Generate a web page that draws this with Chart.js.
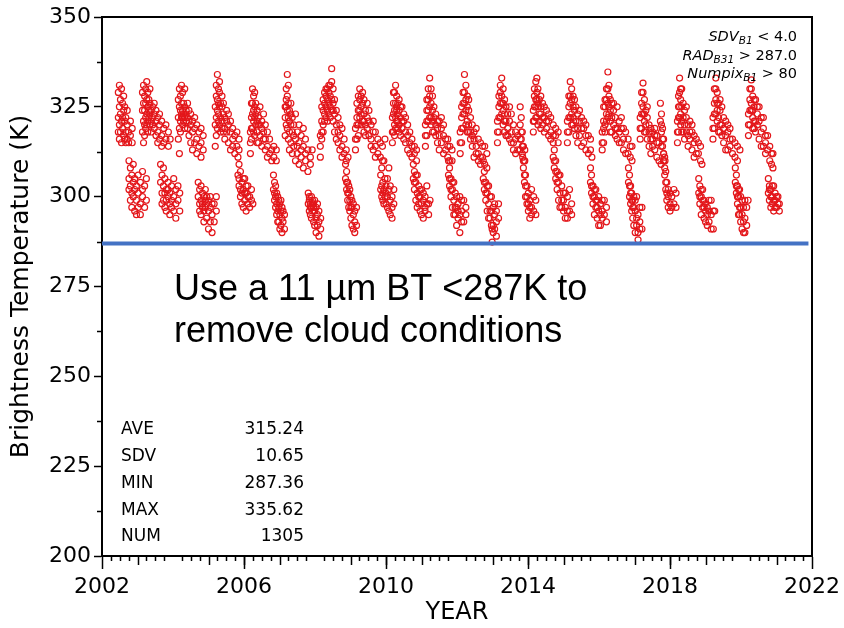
<!DOCTYPE html>
<html>
<head>
<meta charset="utf-8">
<script src="https://cdn.jsdelivr.net/npm/chart.js@4.4.1/dist/chart.umd.min.js"></script>
<style>
  html, body { margin: 0; padding: 0; background: #fff; }
  #wrap { width: 844px; height: 628px; }
</style>
</head>
<body>
<div id="wrap"><canvas id="c" width="844" height="628"></canvas></div>
<script>
// Serie MODIS B31 (11 µm) sobre el sitio: temperatura de brillo por año.
// Cada ciclo es una lista de columnas [fracción de año, K, K, ...] leídas a ojo.
const cycleYears = [2002, 2003, 2004, 2005, 2006, 2007, 2008, 2009, 2010, 2011,
                    2012, 2013, 2014, 2015, 2016, 2017, 2018, 2019, 2020];

const c2002 = [[0.46,329,322,318], [0.49,331,325,320,316], [0.52,327,323,318], [0.55,330,321,315], [0.58,326,319,322],
  [0.61,324,317,328], [0.64,321,316,325], [0.67,322,318,315], [0.71,320,324,316], [0.75,318,315], [0.80,317,321], [0.85,315,319],
  [0.76,310,305,302], [0.80,308,303,299], [0.84,306,301,297], [0.88,309,300,304], [0.92,302,296,305], [0.97,299,303,295],
  [1.02,301,297,306], [1.08,304,298,295], [1.14,300,307,302], [1.20,297,303], [1.25,305,299]];
const c2003 = [[0.14,318,324,329], [0.17,315,321,326,331], [0.20,320,324,328,317], [0.23,322,326,330,319], [0.26,323,327,332,320],
  [0.29,321,325,329,318], [0.32,324,322,327], [0.35,320,326,330,323], [0.39,318,324,321], [0.43,325,320,322], [0.47,319,323,326],
  [0.52,321,317,324], [0.57,318,322,315], [0.62,320,316,323], [0.68,317,321,314], [0.74,319,315], [0.80,316,320], [0.87,318,314], [0.92,316],
  [0.65,309,304], [0.69,306,301,298], [0.73,303,308,299], [0.77,301,297,305], [0.81,302,299,296], [0.86,304,300,302],
  [0.91,298,301,295], [0.96,303,299,297], [1.02,300,305,296], [1.08,302,298,294], [1.14,299,303], [1.19,301,296]];
const c2004 = [[0.15,316,322,327], [0.18,312,319,325,330], [0.21,321,324,328,318], [0.24,322,326,323,331], [0.27,320,324,329,322],
  [0.30,323,321,326], [0.33,322,325,319,330], [0.37,324,321,323], [0.41,319,322,326], [0.45,321,317,324], [0.50,320,323,315],
  [0.55,318,321,313], [0.61,319,315,322], [0.67,316,320,312], [0.73,318,314], [0.79,315,319,311], [0.85,317,313],
  [0.71,304,300], [0.75,302,298,296], [0.79,299,303,295], [0.83,298,301,297], [0.87,296,300,293], [0.91,299,297,302],
  [0.95,298,294,300], [1.00,296,291,299], [1.05,297,293,300], [1.10,295,290,298], [1.16,298,293], [1.22,296,300]];
const c2005 = [[0.19,314,320,325], [0.22,317,322,328,331], [0.25,319,324,334,327], [0.28,321,326,330,323], [0.31,320,325,329,332],
  [0.34,322,318,326], [0.38,321,325,328,319], [0.42,323,318,326], [0.46,316,322,319], [0.51,318,324,321], [0.56,315,320,323],
  [0.62,313,318,321], [0.68,314,319,316], [0.74,312,317], [0.80,314,318], [0.86,313,316],
  [0.83,311,306], [0.86,309,303,305], [0.90,307,300,302], [0.94,304,298,301], [0.98,302,297,305], [1.02,305,299,301],
  [1.06,301,296,303], [1.11,303,298,300], [1.16,300,297], [1.21,302,299], [1.25,298]];
const c2006 = [[0.18,312,318,315], [0.21,316,322,326,319], [0.24,319,323,330,326], [0.27,321,328,324,318], [0.30,317,322,325,329],
  [0.33,320,326,323], [0.37,318,324,321,315], [0.41,320,315,322], [0.45,317,325,320], [0.50,314,319,321], [0.55,316,323,318],
  [0.60,313,320,316], [0.66,311,318,314], [0.72,316,312], [0.78,313,310], [0.84,314,311], [0.91,313,310],
  [0.83,306,302], [0.86,304,299,301], [0.89,300,297,303], [0.92,298,295,301], [0.95,300,296,293], [0.98,297,293,299],
  [1.01,295,291,298], [1.04,296,299,292], [1.07,294,290,297], [1.10,296,293], [1.14,295,291]];
const c2007 = [[0.16,317,322,325], [0.19,320,325,330,327], [0.22,319,324,334,328], [0.25,316,322,326,331], [0.28,313,321,324,318],
  [0.32,315,320,323,326], [0.36,312,318,322], [0.40,314,317,320], [0.45,310,316,323], [0.50,312,318,314], [0.55,309,315,320],
  [0.61,311,317,313], [0.67,308,314,319], [0.73,310,316,312], [0.80,307,313], [0.87,309,311], [0.92,313],
  [0.81,301,298], [0.84,299,296,300], [0.87,298,295,297], [0.90,300,297,294], [0.93,298,296,299], [0.96,297,293,298],
  [0.99,299,296,292], [1.03,297,294,290], [1.07,298,295,292], [1.11,293,289,296], [1.16,294,291]];
const c2008 = [[0.15,311,317,314], [0.19,316,321,325,318], [0.23,318,324,320,327], [0.27,321,326,329,323], [0.31,322,328,325,330],
  [0.35,324,330,327,321], [0.39,326,329,323,331], [0.43,325,331,328,322], [0.47,335.62,332,327,324], [0.51,326,330,321,324],
  [0.55,323,327,318], [0.60,320,324,316], [0.65,315,322,318], [0.70,317,313,320], [0.76,314,319,311], [0.82,316,312], [0.88,313,310], [0.93,311],
  [0.86,309,305], [0.89,307,302,304], [0.92,304,299,301], [0.95,301,297,303], [0.98,299,296,302], [1.01,300,294,297],
  [1.04,297,292,299], [1.08,295,291,298], [1.12,293,290,296], [1.17,292,297]];
const c2009 = [[0.14,313,319,316], [0.18,316,322,326,320], [0.22,320,324,328,317], [0.26,322,327,330,324], [0.30,320,325,328,323],
  [0.34,321,326,329], [0.38,318,323,327,321], [0.42,320,324,317], [0.47,319,322,326], [0.52,317,321,324], [0.58,316,320,314],
  [0.64,313,318,321], [0.70,314,318,311], [0.77,312,316], [0.84,311,315], [0.90,310,314],
  [0.85,306,302], [0.88,308,303,300], [0.91,304,299,301], [0.94,310,302,298], [0.97,316,305,300], [1.00,303,298,301],
  [1.04,305,300,297], [1.08,308,302,296], [1.12,303,299,295], [1.17,300,297,294], [1.22,302,298]];
const c2010 = [[0.18,315,322,318], [0.21,318,326,323,329], [0.24,320,324,329,317], [0.27,322,326,331,319], [0.30,321,324,328,325],
  [0.33,319,323,326,321], [0.37,320,324,327,318], [0.41,317,322,325], [0.45,319,325,321], [0.50,316,321,323], [0.55,318,315,322],
  [0.61,313,320,317], [0.67,312,318,315], [0.73,314,311,316], [0.80,312,314], [0.86,310,313],
  [0.77,309,305], [0.80,307,302,304], [0.84,304,299,306], [0.88,301,306,297], [0.92,303,298,300], [0.96,300,296,302],
  [1.00,302,298,295], [1.05,299,294,301], [1.10,300,296,297], [1.15,303,298], [1.20,298,295], [1.24,299]];
const c2011 = [[0.11,314,320,317], [0.15,317,324,321,327], [0.19,321,327,330,324], [0.23,325,333,328,322], [0.27,322,326,330,320],
  [0.31,324,328,321,318], [0.35,318,325,322], [0.40,317,323,320], [0.45,315,321,319], [0.50,317,313,321], [0.56,315,319,322],
  [0.62,312,317,320], [0.68,313,316], [0.74,311,316,314], [0.80,314,310], [0.86,310,313],
  [0.76,310,306], [0.79,308,303,305], [0.83,305,300,302], [0.87,302,297,304], [0.91,299,304,295], [0.95,301,297,295],
  [0.99,297,292,300], [1.03,298,294,296], [1.08,300,295,290], [1.13,296,293,299], [1.19,293,299], [1.25,295,297]];
const c2012 = [[0.09,312,318,315], [0.13,315,322,319,325], [0.17,319,326,323,329], [0.21,323,329,334,326], [0.25,324,331,327,320],
  [0.29,321,325,328,318], [0.33,318,324,320,327], [0.38,316,322,318], [0.43,314,320,317], [0.48,311,318,316], [0.54,314,319,312],
  [0.60,312,316,310], [0.66,315,311,309], [0.72,311,314], [0.78,309,314], [0.84,308,312],
  [0.74,310,305], [0.77,307,302,304], [0.81,304,299,301], [0.85,301,296,303], [0.89,303,298,294], [0.93,300,296,294],
  [0.97,296,292,300], [0.99,287.36,291], [1.02,297,292,290], [1.06,295,291,298], [1.11,293,289,296], [1.17,298,294]];
const c2013 = [[0.14,315,321,318], [0.18,318,325,322,328], [0.22,322,329,326,331], [0.26,326,333,328,323], [0.30,326,330,320,324],
  [0.34,323,327,318,321], [0.38,321,325,317], [0.43,319,323,317], [0.48,316,321,325], [0.53,318,323,315], [0.59,320,315,313],
  [0.65,318,312,316], [0.71,317,313], [0.78,313,316], [0.85,311,314], [0.91,310,313],
  [0.78,325,320], [0.81,316,322,318], [0.84,312,318,314], [0.87,308,314,310], [0.90,304,310,306], [0.93,300,306,303],
  [0.97,298,303,300], [1.01,296,301,298], [1.05,294,299,297], [1.10,297,302,295], [1.16,300,296], [1.22,295,299]];
const c2014 = [[0.15,318,324,321], [0.18,321,328,325,330], [0.22,325,332,327,322], [0.25,333,327,322,329], [0.28,326,320,325,330],
  [0.32,323,327,321], [0.36,325,319,323,328], [0.41,320,326,322], [0.46,318,322,325], [0.52,319,324,321], [0.58,317,321,323],
  [0.64,318,322,316], [0.71,320,317], [0.78,317,319], [0.85,315,318],
  [0.71,315,311], [0.74,313,308,310], [0.78,310,305,307], [0.82,307,302,304], [0.86,304,299,306], [0.90,306,301,297],
  [0.95,303,299,297], [1.00,296,301,299], [1.05,301,297,294], [1.11,300,296,294], [1.17,302,296], [1.23,298,295]];
const c2015 = [[0.11,315,321,318], [0.15,318,325,322,328], [0.19,322,328,332,326], [0.23,323,330,327,320], [0.27,320,325,322,328],
  [0.31,324,319,327], [0.35,321,325,317], [0.40,319,323,315], [0.45,321,317,324], [0.51,322,314,319], [0.57,315,319,321],
  [0.63,313,320,317], [0.70,312,317], [0.76,316,313], [0.80,311],
  [0.76,308,304], [0.79,306,301,303], [0.83,303,298,300], [0.87,300,295,302], [0.91,302,297,299], [0.95,299,294,297],
  [0.99,300,296,292], [1.04,292,298,295], [1.09,294,299,296], [1.15,295,299], [1.21,297,293]];
const c2016 = [[0.09,313,318,315], [0.13,315,321,325,319], [0.17,320,325,327,318], [0.21,323,327,330,321], [0.25,326,334.7,330,322],
  [0.28,328,323,331,325], [0.32,321,327,324,318], [0.36,322,326,318], [0.41,320,324,326], [0.46,317,322,319], [0.51,325,319,316],
  [0.57,321,318,315], [0.63,322,315,319], [0.69,319,313,316], [0.75,318,312], [0.82,316,312], [0.88,311,314], [0.93,314,310],
  [0.83,308,304], [0.86,306,300,303], [0.89,303,298,301], [0.92,301,296,299], [0.95,299,294,297], [0.98,297,292,300],
  [1.02,296,290,299], [1.06,300,294,292], [1.10,290,295,288], [1.15,293,297,291], [1.21,297,291]];
const c2017 = [[0.16,316,322,319], [0.20,319,326,323,329], [0.24,323,329,331.6,325], [0.28,321,327,323,318], [0.32,318,324,320],
  [0.36,316,322,325], [0.41,314,320,318], [0.46,316,312,319], [0.51,318,314,316], [0.57,319,313,317], [0.63,311,317,315],
  [0.69,310,315], [0.75,314,309], [0.82,312,310], [0.86,310],
  [0.73,326,321], [0.76,318,323,320], [0.79,314,319,316], [0.82,310,316,312], [0.85,306,311,308], [0.88,302,307,304],
  [0.91,299,304,301], [0.95,297,302,300], [1.00,296,301,298], [1.05,300,297], [1.11,298,302], [1.17,297,301]];
const c2018 = [[0.21,315,321,318], [0.24,318,325,322,328], [0.27,322,329,333,325], [0.30,327,323,330,320], [0.33,325,330,321,318],
  [0.37,322,326,318], [0.41,324,320,316], [0.46,322,318,325], [0.51,314,320,317], [0.56,316,321,318], [0.62,313,318,320],
  [0.68,315,311,317], [0.74,316,312], [0.80,315,312], [0.86,310,314], [0.90,309],
  [0.81,305,301], [0.84,303,298,300], [0.88,300,295,302], [0.92,302,297,299], [0.96,299,294,297], [1.00,298,296,293],
  [1.05,292,297,295], [1.10,293,299,296], [1.16,295,299,291], [1.22,291,296], [1.26,296]];
const c2019 = [[0.21,316,322,319], [0.25,319,326,323,330], [0.29,323,330,333,327], [0.33,324,329,321,326], [0.37,322,326,318],
  [0.41,318,324,320,327], [0.46,325,320,317], [0.51,322,319,315], [0.57,321,317,313], [0.63,313,318,320], [0.69,314,319,316],
  [0.76,312,316], [0.83,311,315], [0.90,314,310], [0.97,313],
  [0.84,308,304], [0.87,306,301,303], [0.90,303,298,300], [0.93,300,295,302], [0.96,302,297,295], [0.99,297,293,300],
  [1.03,299,295,291], [1.07,297,293,290], [1.11,294,290,299], [1.16,292,297], [1.20,299]];
const c2020 = [[0.21,317,323,320], [0.25,320,327,324,330], [0.29,324,330,332.5,326], [0.33,322,328,324,319], [0.37,325,321,319,327],
  [0.41,321,327,318], [0.46,323,320,325], [0.51,316,321,325], [0.57,318,322,314], [0.63,314,319,322], [0.69,312,317,315],
  [0.75,313,317], [0.81,310,314], [0.86,309,312], [0.90,308,312],
  [0.77,305,301], [0.80,303,299,302], [0.84,302,297,300], [0.88,300,298,303], [0.92,303,296,299], [0.96,299,301,297],
  [1.00,297,300], [1.04,300,298], [1.08,296,298]];

const cycles = [c2002, c2003, c2004, c2005, c2006, c2007, c2008, c2009, c2010, c2011,
                c2012, c2013, c2014, c2015, c2016, c2017, c2018, c2019, c2020];

// umbral de nubes y su tramo en el eje de años
const cloudThreshold = 287;
const thresholdYears = [2002, 2021.9];

const statLabels = ["AVE", "SDV", "MIN", "MAX", "NUM"];
const statValues = ["315.24", "10.65", "287.36", "335.62", "1305"];

// criterios: [nombre, subíndice, resto]
const criteria = [["SDV", "B1", " < 4.0"], ["RAD", "B31", " > 287.0"], ["Numpix", "B1", " > 80"]];

const noteLines = ["Use a 11 µm BT <287K to", "remove cloud conditions"];

(function () {
  var points = [];
  cycles.forEach(function (cols, i) {
    cols.forEach(function (col) {
      for (var k = 1; k < col.length; k++) points.push({ x: cycleYears[i] + col[0], y: col[k] });
    });
  });
  var threshold = thresholdYears.map(function (yr) { return { x: yr, y: cloudThreshold }; });

  var BLACK = "#000";
  var decor = {
    id: "decor",
    afterDraw: function (chart) {
      var ctx = chart.ctx, a = chart.chartArea, xs = chart.scales.x, ys = chart.scales.y;
      ctx.save();
      // marco superior y derecho
      ctx.strokeStyle = BLACK; ctx.lineWidth = 2;
      ctx.beginPath();
      ctx.moveTo(a.left - 1, a.top); ctx.lineTo(a.right, a.top); ctx.lineTo(a.right, a.bottom + 1);
      ctx.stroke();
      // ticks secundarios
      ctx.lineWidth = 1.5;
      ctx.beginPath();
      for (var v = 212.5; v < 350; v += 25) {
        var py = Math.round(ys.getPixelForValue(v)) + 0.5;
        ctx.moveTo(a.left, py); ctx.lineTo(a.left - 5, py);
      }
      for (var q = 2002.25; q < 2022; q += 0.25) {
        if (Math.abs(q - Math.round(q / 4) * 4) < 1e-6) continue;
        var px = Math.round(xs.getPixelForValue(q)) + 0.5;
        var len = Math.abs(q - Math.round(q)) < 1e-6 ? 9 : 5;
        ctx.moveTo(px, a.bottom); ctx.lineTo(px, a.bottom + len);
      }
      ctx.stroke();

      // nota sobre el umbral
      ctx.fillStyle = BLACK;
      ctx.textBaseline = "middle";
      ctx.textAlign = "left";
      ctx.font = "36px 'Liberation Sans', Arial, sans-serif";
      ctx.fillText(noteLines[0], 174, 290);
      ctx.fillText(noteLines[1], 174, 332);

      // estadísticos
      ctx.font = "17px 'DejaVu Sans', sans-serif";
      statLabels.forEach(function (lab, i) {
        var yy = 430 + i * 26.7;
        ctx.textAlign = "left"; ctx.fillText(lab, 121, yy);
        ctx.textAlign = "right"; ctx.fillText(statValues[i], 304, yy);
      });

      // criterios arriba a la derecha
      var right = 797;
      criteria.forEach(function (cr, i) {
        var base = 41 + i * 18.5;
        var fMain = "italic 14.5px 'DejaVu Sans', sans-serif";
        var fSub = "italic 10.5px 'DejaVu Sans', sans-serif";
        var fRest = "14.5px 'DejaVu Sans', sans-serif";
        ctx.font = fMain; var w1 = ctx.measureText(cr[0]).width;
        ctx.font = fSub; var w2 = ctx.measureText(cr[1]).width;
        ctx.font = fRest; var w3 = ctx.measureText(cr[2]).width;
        var x0 = right - w1 - w2 - w3;
        ctx.textAlign = "left"; ctx.textBaseline = "alphabetic";
        ctx.font = fMain; ctx.fillText(cr[0], x0, base);
        ctx.font = fSub; ctx.fillText(cr[1], x0 + w1, base + 3);
        ctx.font = fRest; ctx.fillText(cr[2], x0 + w1 + w2, base);
      });
      ctx.restore();
    }
  };

  var tickFont = { family: "'DejaVu Sans', sans-serif", size: 22 };
  new Chart(document.getElementById("c"), {
    type: "scatter",
    data: {
      datasets: [
        {
          type: "line",
          data: threshold,
          borderColor: "#4472C4",
          borderWidth: 4,
          pointRadius: 0,
          showLine: true,
          fill: false
        },
        {
          data: points,
          pointStyle: "circle",
          pointRadius: 3,
          pointBorderWidth: 1.2,
          pointBorderColor: "#e3161a",
          pointBackgroundColor: "rgba(0,0,0,0)",
          pointHoverRadius: 3
        }
      ]
    },
    options: {
      responsive: false,
      animation: false,
      devicePixelRatio: 1,
      layout: { padding: { left: 0, top: 17, right: 32, bottom: 0 } },
      plugins: { legend: { display: false }, tooltip: { enabled: false } },
      scales: {
        x: {
          type: "linear",
          min: 2002, max: 2022,
          border: { display: true, color: BLACK, width: 2 },
          grid: { drawOnChartArea: false, drawTicks: true, tickLength: 13, tickColor: BLACK, tickWidth: 1.5 },
          ticks: {
            stepSize: 4, autoSkip: false, maxRotation: 0, padding: 5,
            color: BLACK, font: tickFont,
            callback: function (v) { return String(v); }
          },
          title: {
            display: true, text: "YEAR", color: BLACK,
            font: { family: "'DejaVu Sans', sans-serif", size: 24 },
            padding: { top: 0, bottom: 1 }
          },
          afterFit: function (s) { s.height = 72; s.paddingLeft = 0; s.paddingRight = 0; }
        },
        y: {
          type: "linear",
          min: 200, max: 350,
          border: { display: true, color: BLACK, width: 2 },
          grid: { drawOnChartArea: false, drawTicks: true, tickLength: 8, tickColor: BLACK, tickWidth: 1.5 },
          ticks: {
            stepSize: 25, padding: 3, color: BLACK, font: tickFont,
            callback: function (v) { return String(v); }
          },
          title: {
            display: true, text: "Brightness Temperature (K)", color: BLACK,
            font: { family: "'DejaVu Sans', sans-serif", size: 25 },
            padding: { top: 6, bottom: 0 }
          },
          afterFit: function (s) { s.width = 102; s.paddingTop = 0; s.paddingBottom = 0; }
        }
      }
    },
    plugins: [decor]
  });
})();
</script>
</body>
</html>
